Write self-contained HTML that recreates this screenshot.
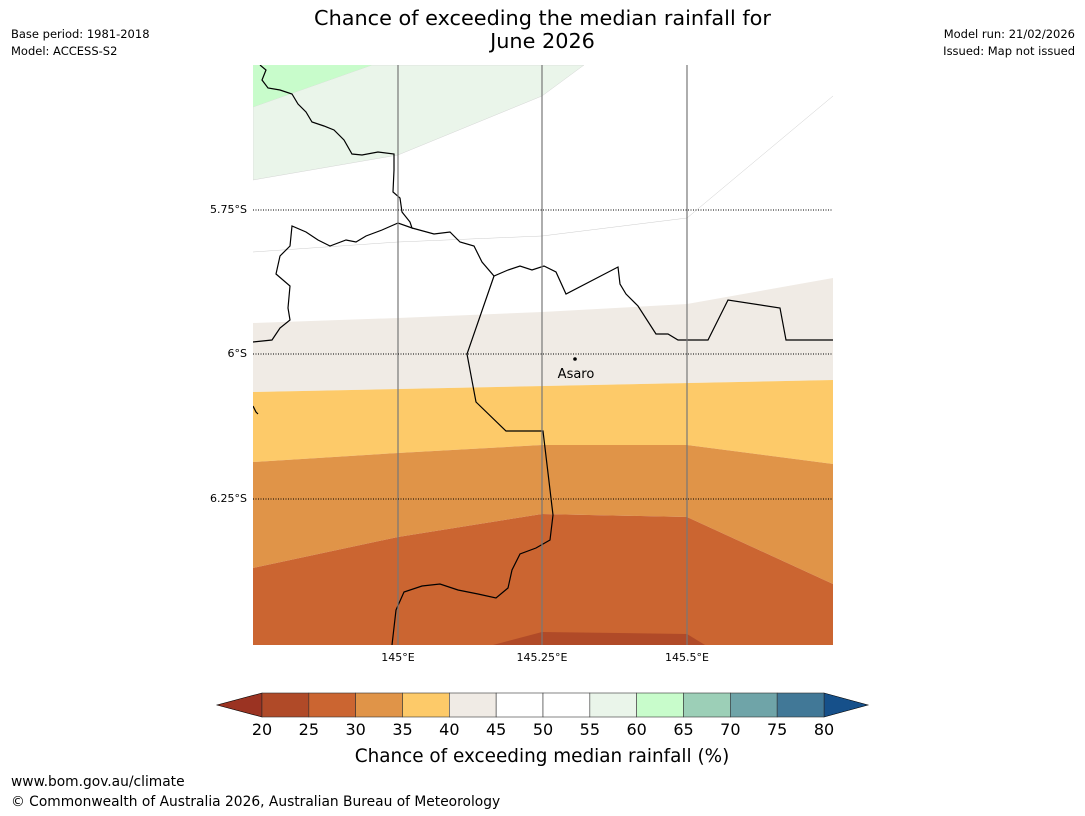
<!DOCTYPE html>
<html><head><meta charset="utf-8"><style>
body{margin:0;background:#fff;width:1085px;height:816px;overflow:hidden;font-family:"DejaVu Sans","Liberation Sans",sans-serif;}
.t{position:absolute;font-size:11.5px;color:#000;white-space:nowrap}
</style></head><body>
<div class="t" style="left:0;width:1085px;top:7px;text-align:center;font-size:20.8px;line-height:23px;">Chance of exceeding the median rainfall for<br>June 2026</div>
<div class="t" style="left:11px;top:27px;">Base period: 1981-2018</div>
<div class="t" style="left:11px;top:44px;">Model: ACCESS-S2</div>
<div class="t" style="right:10px;top:27px;">Model run: 21/02/2026</div>
<div class="t" style="right:10px;top:44px;">Issued: Map not issued</div>
<svg width="1085" height="816" style="position:absolute;left:0;top:0">
<defs><clipPath id="mc"><rect x="253" y="65" width="580" height="580"/></clipPath></defs>
<g clip-path="url(#mc)">
<rect x="253" y="65" width="580" height="580" fill="#fff"/>
<polygon points="253,107 372,65 584,65 542,96 398,155 253,180" fill="#eaf5ea" stroke="#ccc" stroke-width="0.4"/>
<polygon points="253,65 372,65 253,107" fill="#c8fccb"/>
<polyline points="253,252 398,242 542,236 687,218 833,96" fill="none" stroke="#ccc" stroke-width="0.5"/>
<polygon points="253,323 398,318 542,312 687,304 833,278 833,380 253,392" fill="#f0ebe5"/>
<polygon points="253,392 833,380 833,464 687,445 542,445 398,453 253,462" fill="#fdca69"/>
<polygon points="253,462 398,453 542,445 687,445 833,464 833,584 687,517 542,514 398,537 253,568" fill="#e09448"/>
<polygon points="253,568 398,537 542,514 687,517 833,584 833,645 253,645" fill="#cb6531"/>
<polygon points="493,645 542,632 687,634 705,645" fill="#b04a28"/>
<g stroke="#000" stroke-width="1.2" fill="none">
<polyline points="260,65 266,70 262,80 268,88 280,90 292,94 298,104 306,112 312,122 324,126 334,130 344,140 352,154 362,155 378,152 394,154 394,170 393,192 400,198 402,212 410,222 412,228 398,223 382,230 366,236 356,242 346,240 330,246 318,240 306,232 292,226 290,246 280,256 276,274 290,286 288,308 290,320 280,328 272,340 253,342"/>
<polyline points="412,228 434,234 450,232 460,242 474,246 482,262 494,276 508,270 520,266 532,270 544,266 556,272 566,294 618,267 620,284 626,294 638,306 656,334 668,334 678,340 708,340 728,300 780,308 786,340 833,340"/>
<polyline points="494,276 467,354 476,402 506,431 543,431 553,515 550,540 536,548 520,554 512,570 508,588 496,598 478,594 458,590 440,584 422,586 404,592 396,610 392,645"/>
<polyline points="253,406 256,412 258,414"/>
</g>
<g stroke="#777" stroke-width="1.2"><line x1="398" y1="65" x2="398" y2="645"/><line x1="542" y1="65" x2="542" y2="645"/><line x1="687" y1="65" x2="687" y2="645"/></g>
<g stroke="#000" stroke-width="1" stroke-dasharray="1,1.5"><line x1="253" y1="210" x2="833" y2="210"/><line x1="253" y1="354" x2="833" y2="354"/><line x1="253" y1="499" x2="833" y2="499"/></g>
<circle cx="575" cy="359" r="1.8" fill="#000"/>
<text x="576" y="378" font-size="13" text-anchor="middle" font-family="DejaVu Sans,sans-serif">Asaro</text>
</g>
<g font-size="11" font-family="DejaVu Sans,sans-serif">
<text x="247" y="213" text-anchor="end">5.75°S</text><text x="247" y="357" text-anchor="end">6°S</text><text x="247" y="502" text-anchor="end">6.25°S</text>
<text x="398" y="661" text-anchor="middle">145°E</text><text x="542" y="661" text-anchor="middle">145.25°E</text><text x="687" y="661" text-anchor="middle">145.5°E</text>
</g>
<g id="cbar"></g>
<text x="542" y="762" font-size="18.4" text-anchor="middle" font-family="DejaVu Sans,sans-serif">Chance of exceeding median rainfall (%)</text>
</svg>
<div class="t" style="left:11px;top:774px;font-size:13.8px;">www.bom.gov.au/climate</div>
<div class="t" style="left:11px;top:794px;font-size:13.8px;">© Commonwealth of Australia 2026, Australian Bureau of Meteorology</div>
<script>
const ticks=[20,25,30,35,40,45,50,55,60,65,70,75,80];
const binColors=["#b04a28","#cb6531","#e09448","#fdca69","#f0ebe5","#ffffff","#ffffff","#eaf5ea","#c8fccb","#9ccfb7","#6fa4a8","#417897"];
const underColor="#9b3322", overColor="#16508a";
const g=document.getElementById('cbar'),NS="http://www.w3.org/2000/svg";
const x0=262,x1=824,y0=693,y1=717;
const xs=v=>x0+(v-ticks[0])/(ticks[ticks.length-1]-ticks[0])*(x1-x0);
function mk(t,a){const e=document.createElementNS(NS,t);for(const k in a)e.setAttribute(k,a[k]);g.appendChild(e);return e;}
let p=mk('polygon',{points:`${x0},${y0} 217,${(y0+y1)/2} ${x0},${y1}`,fill:underColor,stroke:'#000','stroke-width':0.6});


p=mk('polygon',{points:`${x1},${y0} 868,${(y0+y1)/2} ${x1},${y1}`,fill:overColor,stroke:'#000','stroke-width':0.6});


binColors.forEach((c,i)=>{const r=mk('rect',{x:xs(ticks[i]),y:y0,width:xs(ticks[i+1])-xs(ticks[i]),height:y1-y0,fill:c,stroke:'#333','stroke-width':0.6});

});
ticks.forEach(v=>{const t=mk('text',{x:xs(v),y:735,'font-size':16,'text-anchor':'middle','font-family':'DejaVu Sans,sans-serif'});t.textContent=v;

});
</script>
</body></html>
